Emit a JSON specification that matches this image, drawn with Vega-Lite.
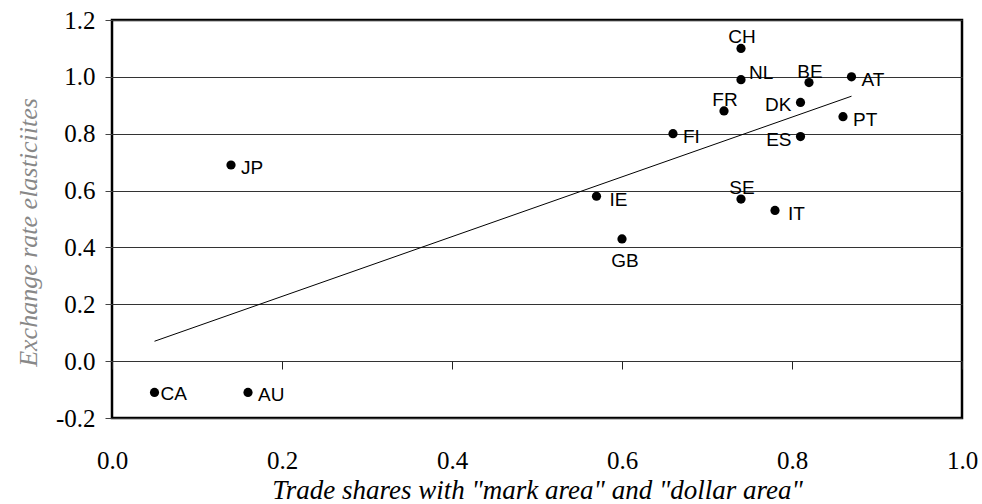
{
  "$schema": "https://vega.github.io/schema/vega-lite/v6.json",
  "width": 850,
  "height": 398,
  "autosize": {"type": "none"},
  "padding": {"left": 112, "top": 20, "right": 20, "bottom": 86},
  "background": "white",
  "config": {
    "view": {"stroke": "black", "strokeWidth": 2.5},
    "axis": {"labelFont": "Liberation Serif", "labelColor": "black", "titleFont": "Liberation Serif", "titleFontStyle": "italic", "titleFontWeight": "normal"}
  },
  "datasets": {
    "points": [
      {"country": "CH", "share": 0.74, "elasticity": 1.10},
      {"country": "NL", "share": 0.74, "elasticity": 0.99},
      {"country": "BE", "share": 0.82, "elasticity": 0.98},
      {"country": "AT", "share": 0.87, "elasticity": 1.00},
      {"country": "DK", "share": 0.81, "elasticity": 0.91},
      {"country": "FR", "share": 0.72, "elasticity": 0.88},
      {"country": "PT", "share": 0.86, "elasticity": 0.86},
      {"country": "FI", "share": 0.66, "elasticity": 0.80},
      {"country": "ES", "share": 0.81, "elasticity": 0.79},
      {"country": "JP", "share": 0.14, "elasticity": 0.69},
      {"country": "IE", "share": 0.57, "elasticity": 0.58},
      {"country": "SE", "share": 0.74, "elasticity": 0.57},
      {"country": "IT", "share": 0.78, "elasticity": 0.53},
      {"country": "GB", "share": 0.60, "elasticity": 0.43},
      {"country": "CA", "share": 0.05, "elasticity": -0.11},
      {"country": "AU", "share": 0.16, "elasticity": -0.11}
    ],
    "fit": [
      {"share": 0.05, "elasticity": 0.07},
      {"share": 0.87, "elasticity": 0.932}
    ]
  },
  "encoding": {
    "x": {
      "field": "share", "type": "quantitative",
      "scale": {"domain": [0, 1], "nice": false, "zero": false},
      "axis": {
        "title": "Trade shares with \"mark area\" and \"dollar area\"",
        "values": [0, 0.2, 0.4, 0.6, 0.8, 1.0],
        "labelExpr": "replace(format(datum.value, '.1f'), '\u2212', '-')",
        "offset": -57,
        "domain": false,
        "grid": false,
        "ticks": true,
        "tickSize": 8,
        "tickColor": "#222",
        "labelFont": "Liberation Serif",
        "labelFontSize": 25,
        "labelPadding": 79,
        "labelFlush": false,
        "titleFont": "Liberation Serif",
        "titleFontSize": 27,
        "titleColor": "black",
        "titlePadding": 4
      }
    },
    "y": {
      "field": "elasticity", "type": "quantitative",
      "scale": {"domain": [-0.2, 1.2], "nice": false, "zero": false},
      "axis": {
        "title": "Exchange rate elasticiites",
        "values": [-0.2, 0, 0.2, 0.4, 0.6, 0.8, 1.0, 1.2],
        "labelExpr": "replace(format(datum.value, '.1f'), '\u2212', '-')",
        "domain": false,
        "grid": true,
        "gridColor": "#333",
        "gridWidth": 1,
        "gridOpacity": 1,
        "tickSize": 7,
        "tickColor": "#444",
        "labelFont": "Liberation Serif",
        "labelFontSize": 25,
        "labelPadding": 10,
        "labelFlush": false,
        "titleFont": "Liberation Serif",
        "titleFontSize": 26,
        "titleColor": "#888",
        "titlePadding": 14,
        "titleY": 212
      }
    }
  },
  "layer": [
    {
      "data": {"name": "fit"},
      "mark": {"type": "line", "color": "black", "strokeWidth": 1},
      "encoding": {}
    },
    {
      "data": {"name": "points"},
      "mark": {"type": "point", "filled": true, "color": "black", "opacity": 1, "size": 85},
      "encoding": {}
    },
    {
      "data": {"name": "points"},
      "transform": [{"filter": {"field": "country", "oneOf": ["AT", "PT", "FI", "JP", "AU"]}}],
      "mark": {"type": "text", "align": "left", "baseline": "middle", "dx": 10, "dy": 3, "font": "Liberation Sans", "fontSize": 19, "color": "black"},
      "encoding": {"text": {"field": "country"}}
    },
    {
      "data": {"name": "points"},
      "transform": [{"filter": {"field": "country", "oneOf": ["IE", "IT"]}}],
      "mark": {"type": "text", "align": "left", "baseline": "middle", "dx": 13, "dy": 4, "font": "Liberation Sans", "fontSize": 19, "color": "black"},
      "encoding": {"text": {"field": "country"}}
    },
    {
      "data": {"name": "points"},
      "transform": [{"filter": {"field": "country", "oneOf": ["CA"]}}],
      "mark": {"type": "text", "align": "left", "baseline": "middle", "dx": 6, "dy": 2, "font": "Liberation Sans", "fontSize": 19, "color": "black"},
      "encoding": {"text": {"field": "country"}}
    },
    {
      "data": {"name": "points"},
      "transform": [{"filter": {"field": "country", "oneOf": ["NL"]}}],
      "mark": {"type": "text", "align": "left", "baseline": "middle", "dx": 8, "dy": -7, "font": "Liberation Sans", "fontSize": 19, "color": "black"},
      "encoding": {"text": {"field": "country"}}
    },
    {
      "data": {"name": "points"},
      "transform": [{"filter": {"field": "country", "oneOf": ["DK", "ES"]}}],
      "mark": {"type": "text", "align": "right", "baseline": "middle", "dx": -9, "dy": 3, "font": "Liberation Sans", "fontSize": 19, "color": "black"},
      "encoding": {"text": {"field": "country"}}
    },
    {
      "data": {"name": "points"},
      "transform": [{"filter": {"field": "country", "oneOf": ["CH", "BE", "FR", "SE"]}}],
      "mark": {"type": "text", "align": "center", "baseline": "middle", "dx": 1, "dy": -11, "font": "Liberation Sans", "fontSize": 19, "color": "black"},
      "encoding": {"text": {"field": "country"}}
    },
    {
      "data": {"name": "points"},
      "transform": [{"filter": {"field": "country", "oneOf": ["GB"]}}],
      "mark": {"type": "text", "align": "center", "baseline": "middle", "dx": 3, "dy": 22, "font": "Liberation Sans", "fontSize": 19, "color": "black"},
      "encoding": {"text": {"field": "country"}}
    }
  ]
}
